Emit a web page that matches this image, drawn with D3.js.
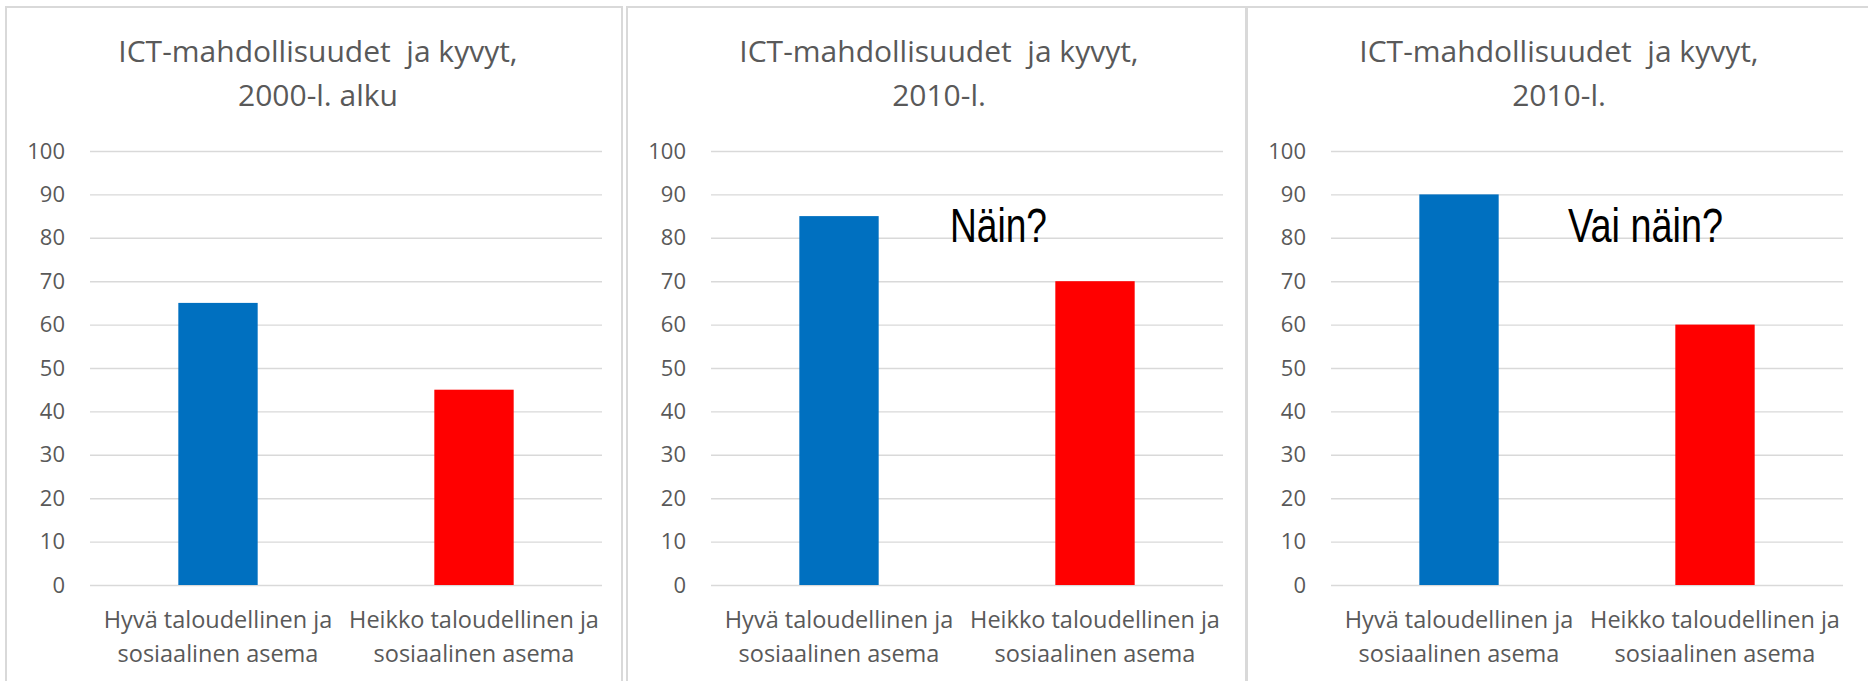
<!DOCTYPE html>
<html>
<head>
<meta charset="utf-8">
<script src="https://cdn.jsdelivr.net/npm/d3@7"></script>
<style>
  body { margin: 0; background: #fff; }
  svg { display: block; }
  .title { font-family: "Open Sans", sans-serif; fill: #595959; white-space: pre; }
  .tick text { font-family: "Open Sans", sans-serif; fill: #595959; }
  .cat { font-family: "Open Sans", sans-serif; fill: #595959; }
  .note { font-family: "Liberation Sans", Arial, sans-serif; fill: #000; }
</style>
</head>
<body>
<div id="chart"></div>
<script>
// chart values
var categories = ["Hyvä taloudellinen ja sosiaalinen asema", "Heikko taloudellinen ja sosiaalinen asema"];
var categoryLines = [["Hyvä taloudellinen ja", "sosiaalinen asema"], ["Heikko taloudellinen ja", "sosiaalinen asema"]];
var values2000 = [65, 45];
var values2010a = [85, 70];
var values2010b = [90, 60];
var barColors = ["#0070C0", "#FF0000"];
var yTicks = [0, 10, 20, 30, 40, 50, 60, 70, 80, 90, 100];
var titles = [
  ["ICT-mahdollisuudet  ja kyvyt,", "2000-l. alku"],
  ["ICT-mahdollisuudet  ja kyvyt,", "2010-l."],
  ["ICT-mahdollisuudet  ja kyvyt,", "2010-l."]
];
var notes = ["", "Näin?", "Vai näin?"];

var svgWidth = 1868;
var svgHeight = 681;

var svg = d3.select("#chart")
  .append("svg")
  .attr("width", svgWidth)
  .attr("height", svgHeight);

// panel boxes (left edge, width)
var panels = [
  { left: 6, width: 616, values: values2000, noteX: 0, noteW: 0 },
  { left: 627, width: 619, values: values2010a, noteX: 323, noteW: 97 },
  { left: 1247, width: 630, values: values2010b, noteX: 321, noteW: 155 }
];

var panelTop = 7;
var margin = { left: 84, top: 144 };
var plotW = 512;
var plotH = 434;

var x = d3.scaleBand()
  .domain(categories)
  .range([0, plotW])
  .paddingInner(0.69)
  .paddingOuter(0.345);

var y = d3.scaleLinear()
  .domain([0, 100])
  .range([plotH, 0]);

panels.forEach(function (p, i) {
  var g = svg.append("g")
    .attr("transform", `translate(${p.left}, ${panelTop})`);

  // border
  g.append("rect")
    .attr("x", 0)
    .attr("y", 0)
    .attr("width", p.width)
    .attr("height", svgHeight + 10)
    .attr("fill", "none")
    .attr("stroke", "#d9d9d9")
    .attr("stroke-width", 2);

  // title, two lines
  titles[i].forEach(function (line, k) {
    g.append("text")
      .attr("class", "title")
      .attr("x", 312)
      .attr("y", 55 + k * 44)
      .attr("text-anchor", "middle")
      .style("font-size", "30px")
      .text(line);
  });

  var chartGroup = g.append("g")
    .attr("transform", `translate(${margin.left}, ${margin.top})`);

  // y axis with gridlines
  var leftAxis = d3.axisLeft(y)
    .tickValues(yTicks)
    .tickSize(-plotW)
    .tickPadding(25);

  var yAxis = chartGroup.append("g").call(leftAxis);
  yAxis.select(".domain").remove();
  yAxis.selectAll(".tick line")
    .attr("stroke", "#d9d9d9")
    .attr("stroke-width", 1.4);
  yAxis.selectAll(".tick text")
    .style("font-size", "22px");

  // bars
  chartGroup.selectAll("rect.bar")
    .data(p.values)
    .enter()
    .append("rect")
    .attr("class", "bar")
    .attr("x", (d, j) => x(categories[j]))
    .attr("y", d => y(d))
    .attr("width", x.bandwidth())
    .attr("height", d => y(0) - y(d))
    .attr("fill", (d, j) => barColors[j]);

  // category labels, two lines each
  categories.forEach(function (c, j) {
    var t = chartGroup.append("text")
      .attr("class", "cat")
      .attr("text-anchor", "middle")
      .style("font-size", "23.5px");
    categoryLines[j].forEach(function (line, k) {
      t.append("tspan")
        .attr("x", x(c) + x.bandwidth() / 2)
        .attr("y", plotH + 43 + k * 34)
        .text(line);
    });
  });

  // annotation
  if (notes[i]) {
    g.append("text")
      .attr("class", "note")
      .attr("x", p.noteX)
      .attr("y", margin.top + y(79))
      .attr("textLength", p.noteW)
      .attr("lengthAdjust", "spacingAndGlyphs")
      .style("font-size", "48px")
      .text(notes[i]);
  }
});
</script>
</body>
</html>
